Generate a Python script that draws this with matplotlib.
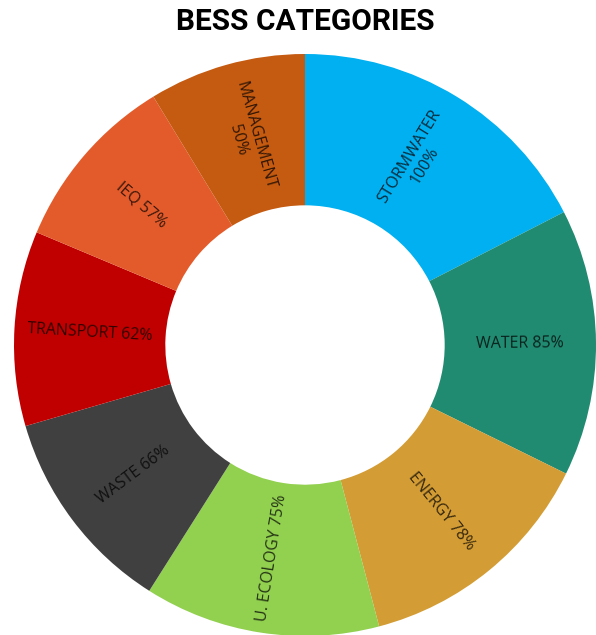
import matplotlib.pyplot as plt
import numpy as np

# BESS category scores
categories = ['STORMWATER', 'WATER', 'ENERGY', 'U. ECOLOGY', 'WASTE',
              'TRANSPORT', 'IEQ', 'MANAGEMENT']
scores = [100, 85, 78, 75, 66, 62, 57, 50]
labels = ['STORMWATER\n100%', 'WATER 85%', 'ENERGY 78%', 'U. ECOLOGY 75%',
          'WASTE 66%', 'TRANSPORT 62%', 'IEQ 57%', 'MANAGEMENT\n50%']
colors = ['#00b0f0', '#218b72', '#d39c34', '#92d050', '#404040',
          '#c00000', '#e45b2b', '#c55a11']

fig = plt.figure(figsize=(5.96, 6.35), dpi=100)
W, H = 596, 635
cx, cy, r = 305, 345, 291
ax = fig.add_axes([(cx - r) / W, (H - cy - r) / H, 2 * r / W, 2 * r / H])

hole = 0.48
wedges, _ = ax.pie(scores, colors=colors, startangle=90, counterclock=False,
                   radius=1, wedgeprops=dict(width=1 - hole, linewidth=0))

# labels placed along the middle of the ring, rotated radially
rmid = (1 + hole) / 2
for w, lab in zip(wedges, labels):
    ang = (w.theta1 + w.theta2) / 2
    x = rmid * np.cos(np.radians(ang))
    y = rmid * np.sin(np.radians(ang))
    rot = ang
    if rot > 90:
        rot -= 180
    elif rot < -90:
        rot += 180
    ax.text(x, y, lab, rotation=rot, rotation_mode='anchor',
            ha='center', va='center', fontsize=11.5, family='Open Sans',
            color='black', alpha=0.75, linespacing=1.1)

ax.set_xlim(-1, 1)
ax.set_ylim(-1, 1)
ax.set_aspect('equal')
ax.axis('off')

fig.text(cx / W, 1 - 22 / H, 'BESS CATEGORIES', ha='center', va='center',
         fontsize=21.5, fontweight='bold', family='Roboto')

fig.savefig('out.png', dpi=100)
